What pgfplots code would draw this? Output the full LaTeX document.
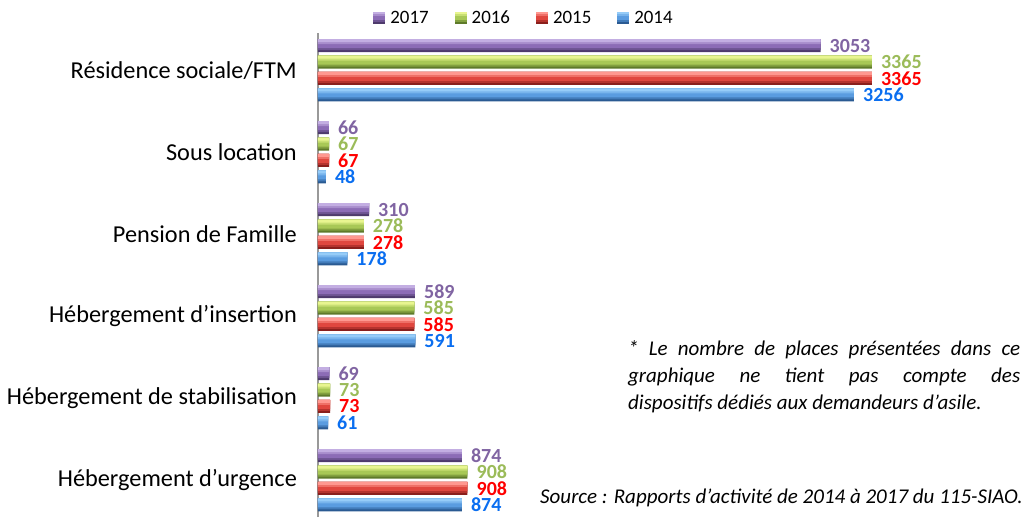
\documentclass[border=0pt]{standalone}
\usepackage{fontspec}
\setmainfont{Carlito}
\usepackage{pgfplots}
\usepackage{pgfplotstable}
\pgfplotsset{compat=1.18}
\definecolor{pL}{HTML}{C3AEE2}\definecolor{pM}{HTML}{8C6CB6}\definecolor{pD}{HTML}{4E3A6C}
\definecolor{gL}{HTML}{E8F590}\definecolor{gM}{HTML}{A8C856}\definecolor{gD}{HTML}{5E7A2A}
\definecolor{rL}{HTML}{FF9890}\definecolor{rM}{HTML}{E0473F}\definecolor{rD}{HTML}{8A1F1C}
\definecolor{bL}{HTML}{96CCF8}\definecolor{bM}{HTML}{5A9CE0}\definecolor{bD}{HTML}{2A5A92}
\definecolor{pT}{HTML}{8064A2}\definecolor{gT}{HTML}{9BBB59}\definecolor{rT}{HTML}{FF0000}\definecolor{bT}{HTML}{0A6EF0}
% category index: 0 urgence, 1 stabilisation, 2 insertion, 3 pension, 4 sous location, 5 residence
\pgfplotstableread{
v c
874 0
69 1
589 2
310 3
66 4
3053 5
}\dataA
\pgfplotstableread{
v c
908 0
73 1
585 2
278 3
67 4
3365 5
}\dataB
\pgfplotstableread{
v c
908 0
73 1
585 2
278 3
67 4
3365 5
}\dataC
\pgfplotstableread{
v c
874 0
61 1
591 2
178 3
48 4
3256 5
}\dataD
% #1 table, #2 colour prefix, #3..#7 shifts (pt): s, s+1, s+2, s+4, s+5
\newcommand{\series}[7]{%
  \addplot[bar shift=#3pt, bar width=13pt, draw=none, fill=#2D,
    nodes near coords, nodes near coords style={text=#2T},
    legend image code/.code={\fill[#2D] (0pt,-6pt) rectangle (12pt,6pt);
      \fill[#2D!50!#2M] (0pt,-4pt) rectangle (12pt,6pt);
      \fill[#2M] (0pt,-2pt) rectangle (12pt,6pt);
      \fill[#2M!50!#2L] (0pt,2pt) rectangle (12pt,6pt);
      \fill[#2L] (0pt,4pt) rectangle (12pt,6pt);}]
    table[x=v, y=c] {#1};
  \addplot[forget plot, bar shift=#4pt, bar width=11pt, draw=none, fill=#2D!50!#2M] table[x=v, y=c] {#1};
  \addplot[forget plot, bar shift=#5pt, bar width=9pt, draw=none, fill=#2M] table[x=v, y=c] {#1};
  \addplot[forget plot, bar shift=#6pt, bar width=5pt, draw=none, fill=#2M!50!#2L] table[x=v, y=c] {#1};
  \addplot[forget plot, bar shift=#7pt, bar width=3pt, draw=none, fill=#2L] table[x=v, y=c] {#1};
}
\begin{document}
\begin{tikzpicture}
\begin{axis}[
  scale only axis, width=658.4pt, height=483.7pt,
  xmin=0, xmax=4000, ymin=-0.45, ymax=5.45,
  xbar,
  axis x line=none, axis y line*=left,
  y axis line style={draw=gray!80, line width=1.3pt},
  ytick={0,1,2,3,4,5}, major tick length=0pt,
  yticklabels={Hébergement d’urgence, Hébergement de stabilisation, Hébergement d’insertion, Pension de Famille, Sous location, Résidence sociale/FTM},
  yticklabel style={font=\fontsize{24.3}{27}\selectfont, anchor=east, inner sep=0pt, xshift=-21pt},
  /pgf/number format/.cd, 1000 sep={}, assume math mode=true, /pgfplots/.cd,
  nodes near coords style={font=\bfseries\fontsize{20}{21}\selectfont, anchor=west, inner sep=0pt, xshift=9pt, text depth=0pt},
  legend columns=4,
  legend style={draw=none, fill=none, at={(rel axis cs:0.3129,1.0318)}, anchor=center,
    font=\fontsize{18.9}{20}\selectfont,
    /tikz/every odd column/.style={column sep=3pt},
    /tikz/every even column/.style={column sep=24pt}},
]
\series{\dataA}{p}{24.6}{25.6}{26.6}{28.6}{29.6}
\series{\dataB}{g}{8.2}{9.2}{10.2}{12.2}{13.2}
\series{\dataC}{r}{-8.2}{-7.2}{-6.2}{-4.2}{-3.2}
\series{\dataD}{b}{-24.6}{-23.6}{-22.6}{-20.6}{-19.6}
\legend{2017,2016,2015,2014}
\end{axis}
\node[anchor=north west, inner sep=0pt, text width=392pt, align=justify,
  font=\itshape\fontsize{21}{27}\selectfont] at (310pt,177pt)
  {* Le nombre de places présentées dans ce\linebreak
   graphique ne tient pas compte des\linebreak
   dispositifs dédiés aux demandeurs d’asile.};
\node[anchor=base west, inner sep=0pt, font=\itshape\fontsize{21}{26}\selectfont] at (222pt,14.1pt)
  {Source : Rapports d’activité de 2014 à 2017 du 115-SIAO.};
\pgfresetboundingbox
\path (-318pt,0.1pt) rectangle (712pt,517.1pt);
\end{tikzpicture}
\end{document}
